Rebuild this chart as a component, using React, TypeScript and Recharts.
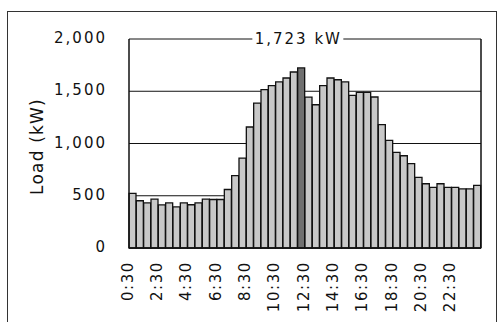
import React from 'react';
import { BarChart, Bar, XAxis, YAxis, CartesianGrid, Cell, ReferenceDot } from 'recharts';

const times = [
  '0:30', '1:00', '1:30', '2:00', '2:30', '3:00', '3:30', '4:00', '4:30', '5:00', '5:30', '6:00',
  '6:30', '7:00', '7:30', '8:00', '8:30', '9:00', '9:30', '10:00', '10:30', '11:00', '11:30', '12:00',
  '12:30', '13:00', '13:30', '14:00', '14:30', '15:00', '15:30', '16:00', '16:30', '17:00', '17:30', '18:00',
  '18:30', '19:00', '19:30', '20:00', '20:30', '21:00', '21:30', '22:00', '22:30', '23:00', '23:30', '24:00',
];

const loads = [
  522, 452, 431, 467, 412, 431, 393, 431, 414, 431, 467, 464,
  464, 560, 692, 860, 1158, 1387, 1515, 1553, 1589, 1627, 1684, 1723,
  1443, 1371, 1553, 1627, 1610, 1589, 1461, 1489, 1489, 1445, 1180, 1030,
  916, 883, 807, 676, 615, 580, 615, 580, 580, 565, 565, 599,
];

const yTicks = [0, 500, 1000, 1500, 2000];
const peakLabel = '1,723 kW';
const yAxisTitle = 'Load (kW)';

const data = times.map((t, i) => ({ time: t, load: loads[i] }));
const peakIndex = loads.indexOf(Math.max(...loads));

const FONT = '"DejaVu Sans", sans-serif';
const TEXT = '#111';

const XTick = (props: any) => {
  const { x, y, payload } = props;
  return (
    <text
      x={x}
      y={y}
      transform={`rotate(-90 ${x} ${y})`}
      textAnchor="end"
      fontFamily={FONT}
      fontSize={15}
      letterSpacing={1.6}
      fill={TEXT}
    >
      {payload.value}
    </text>
  );
};

const YTick = (props: any) => {
  const { x, y, payload } = props;
  return (
    <text
      x={x}
      y={y - 1}
      textAnchor="end"
      dominantBaseline="central"
      fontFamily={FONT}
      fontSize={15}
      letterSpacing={2}
      fill={TEXT}
    >
      {Number(payload.value).toLocaleString('en-US')}
    </text>
  );
};

const YTitle = (props: any) => {
  const vb = props.viewBox || { x: 0, y: 39, width: 129, height: 209 };
  const cx = vb.x + 37;
  const cy = vb.y + vb.height / 2 + 3;
  return (
    <text
      x={cx}
      y={cy}
      transform={`rotate(-90 ${cx} ${cy})`}
      textAnchor="middle"
      dominantBaseline="central"
      fontFamily={FONT}
      fontSize={17}
      letterSpacing={1.2}
      fill={TEXT}
    >
      {yAxisTitle}
    </text>
  );
};

const PeakLabel = (props: any) => {
  const { cx, cy } = props;
  return (
    <g>
      <rect x={cx - 49} y={cy - 8} width={91} height={16} fill="#ffffff" />
      <text
        x={cx - 3}
        y={cy}
        textAnchor="middle"
        dominantBaseline="central"
        fontFamily={FONT}
        fontSize={15}
        letterSpacing={2}
        fill={TEXT}
      >
        {peakLabel}
      </text>
    </g>
  );
};

export default function App() {
  return (
    <div
      style={{
        position: 'fixed',
        left: 0,
        top: 0,
        width: 497,
        height: 322,
        overflow: 'hidden',
        background: '#ffffff',
      }}
    >
      <div
        style={{
          position: 'absolute',
          left: 7,
          top: 11,
          width: 490,
          height: 400,
          border: '1px solid #333',
          boxSizing: 'border-box',
        }}
      />
      <div style={{ position: 'absolute', left: 0, top: 0 }}>
        <BarChart
          width={497}
          height={322}
          data={data}
          margin={{ top: 39, right: 15, left: 0, bottom: 0 }}
          barCategoryGap={0}
          barGap={0}
        >
          <CartesianGrid vertical={false} stroke="#111" strokeWidth={1} />
          <XAxis
            dataKey="time"
            interval={3}
            height={74}
            tickSize={0}
            tickMargin={13}
            tick={<XTick />}
            axisLine={{ stroke: '#111', strokeWidth: 1.5 }}
            tickLine={false}
          />
          <YAxis
            domain={[0, 2000]}
            ticks={yTicks}
            width={129}
            tickSize={0}
            tickMargin={22}
            tick={<YTick />}
            axisLine={{ stroke: '#111', strokeWidth: 1.5 }}
            tickLine={false}
            label={<YTitle />}
          />
          <YAxis
            yAxisId="right"
            orientation="right"
            domain={[0, 2000]}
            ticks={yTicks}
            width={1}
            tick={false}
            tickLine={false}
            axisLine={{ stroke: '#111', strokeWidth: 1.5 }}
          />
          <Bar dataKey="load" isAnimationActive={false} stroke="#111" strokeWidth={1.3}>
            {data.map((d, i) => (
              <Cell key={d.time} fill={i === peakIndex ? '#707070' : '#c8c8c8'} />
            ))}
          </Bar>
          <ReferenceDot x={times[peakIndex]} y={2000} r={0} shape={<PeakLabel />} />
        </BarChart>
      </div>
    </div>
  );
}
